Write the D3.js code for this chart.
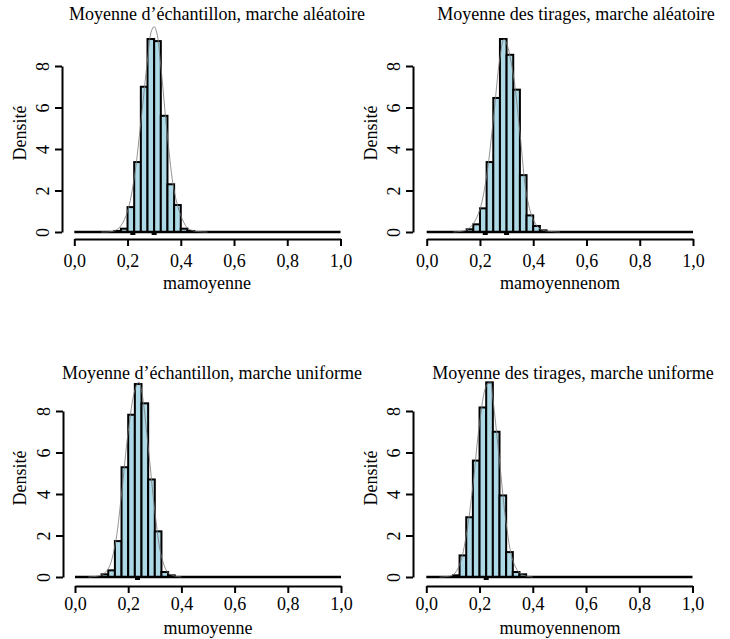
<!DOCTYPE html>
<html><head><meta charset="utf-8">
<script src="https://cdn.jsdelivr.net/npm/d3@7"></script>
<style>
body{margin:0;background:#fff;}
text{font-family:"Liberation Serif","Times New Roman",serif;fill:#000;}
</style></head>
<body><svg id="c" width="730" height="639"></svg>
<script>
// ---- data ----
const binEdges = [0,0.025,0.05,0.075,0.1,0.125,0.15,0.175,0.2,0.225,0.25,0.275,0.3,0.325,0.35,0.375,0.4,0.425,0.45,0.475,0.5,0.525,0.55,0.575,0.6,0.625,0.65,0.675,0.7,0.725,0.75,0.775,0.8,0.825,0.85,0.875,0.9,0.925,0.95,0.975,1];
const xTicks = [0,0.2,0.4,0.6,0.8,1];
const xTickLabels = ["0,0","0,2","0,4","0,6","0,8","1,0"];
const yTicks = [0,2,4,6,8];
const titles = ["Moyenne d\u2019\u00e9chantillon, marche al\u00e9atoire","Moyenne des tirages, marche al\u00e9atoire","Moyenne d\u2019\u00e9chantillon, marche uniforme","Moyenne des tirages, marche uniforme"];
const xLabels = ["mamoyenne","mamoyennenom","mumoyenne","mumoyennenom"];
const yLabel = "Densit\u00e9";
// densities per bin (40 bins of width 0.025)
const densMamoyenne    = [0,0,0,0,0,0,0.05,0.16,1.2,3.37,7.0,9.3,9.2,5.6,2.3,1.3,0.16,0.05,0,0,0,0,0,0,0,0,0,0,0,0,0,0,0,0,0,0,0,0,0,0];
const densMamoyennenom = [0,0,0,0,0,0,0.13,0.37,1.14,3.37,6.46,9.3,8.54,6.86,2.74,0.8,0.29,0.08,0,0,0,0,0,0,0,0,0,0,0,0,0,0,0,0,0,0,0,0,0,0];
const densMumoyenne    = [0,0,0,0,0.13,0.32,1.73,5.29,7.82,9.3,8.37,4.7,2.2,0.24,0.08,0,0,0,0,0,0,0,0,0,0,0,0,0,0,0,0,0,0,0,0,0,0,0,0,0];
const densMumoyennenom = [0,0,0,0,0.08,1.04,2.88,5.61,8.17,9.38,7.0,3.93,1.2,0.24,0.13,0,0,0,0,0,0,0,0,0,0,0,0,0,0,0,0,0,0,0,0,0,0,0,0,0];
// density curves (x, density)
const curveX1 = [0.1,0.15,0.175,0.2,0.225,0.25,0.275,0.29,0.3,0.31,0.325,0.35,0.375,0.4,0.425,0.45,0.5];
const curveY1 = [0,0.05,0.3,1.0,2.6,5.3,8.3,9.7,9.9,9.6,8.0,4.6,2.0,0.8,0.2,0.05,0];
const curveX2 = [0.1,0.15,0.175,0.2,0.225,0.25,0.275,0.29,0.3,0.325,0.35,0.375,0.4,0.425,0.45,0.5];
const curveY2 = [0,0.1,0.4,1.1,2.7,5.4,8.4,9.3,9.1,7.6,4.8,1.8,0.6,0.15,0.05,0];
const curveX3 = [0.05,0.1,0.125,0.15,0.175,0.2,0.225,0.24,0.25,0.275,0.3,0.325,0.35,0.375,0.4];
const curveY3 = [0,0.1,0.4,1.5,4.0,7.0,9.0,9.4,9.0,6.3,3.2,1.0,0.2,0.05,0];
const curveX4 = [0.05,0.1,0.125,0.15,0.175,0.2,0.225,0.24,0.25,0.275,0.3,0.325,0.35,0.375,0.4];
const curveY4 = [0,0.1,0.6,2.0,4.4,7.4,9.2,9.4,8.6,5.6,2.6,0.8,0.2,0.05,0];
// marks on the baseline
const marks1 = [0.22,0.30], marks2 = [0.22,0.30], marks3 = [0.235], marks4 = [0.225];

// ---- layout ----
const panels = [
 {dens:densMamoyenne, cx:curveX1, cy:curveY1, marks:marks1, x0:74.3, x1:340.5, y0:232, y8:66, yAxisX:62, xAxisY:239, tickLabY:263, titleX:217, titleY:20, xlabX:207, xlabY:289, ylabX:26, ylabY:133},
 {dens:densMamoyennenom, cx:curveX2, cy:curveY2, marks:marks2, x0:426.7, x1:693, y0:232, y8:66, yAxisX:413, xAxisY:239, tickLabY:263, titleX:576, titleY:20, xlabX:560, xlabY:289, ylabX:377, ylabY:133},
 {dens:densMumoyenne, cx:curveX3, cy:curveY3, marks:marks3, x0:75, x1:341, y0:577, y8:411, yAxisX:63, xAxisY:586, tickLabY:606, titleX:212, titleY:379, xlabX:208, xlabY:634, ylabX:26, ylabY:478},
 {dens:densMumoyennenom, cx:curveX4, cy:curveY4, marks:marks4, x0:426.3, x1:692.5, y0:577, y8:411, yAxisX:413, xAxisY:586, tickLabY:606, titleX:573, titleY:379, xlabX:560, xlabY:634, ylabX:377, ylabY:478}
];

const FS = 18;
const svg = d3.select("#c");
panels.forEach((p,i)=>{
  const x = d3.scaleLinear().domain([0,1]).range([p.x0,p.x1]);
  const y = d3.scaleLinear().domain([0,8]).range([p.y0,p.y8]);
  const g = svg.append("g");
  g.append("text").attr("x",p.titleX).attr("y",p.titleY).attr("text-anchor","middle")
    .attr("font-size",FS).text(titles[i]);
  g.append("text").attr("x",p.xlabX).attr("y",p.xlabY).attr("text-anchor","middle")
    .attr("font-size",FS).text(xLabels[i]);
  g.append("text").attr("transform",`translate(${p.ylabX},${p.ylabY}) rotate(-90)`).attr("text-anchor","middle")
    .attr("font-size",FS).text(yLabel);
  // bars
  const bins = p.dens.map((d,k)=>({x0:binEdges[k], x1:binEdges[k+1], d})).filter(b=>b.d>0);
  g.selectAll("rect.bar").data(bins).enter().append("rect")
    .attr("x",b=>x(b.x0)).attr("width",b=>x(b.x1)-x(b.x0))
    .attr("y",b=>y(b.d)).attr("height",b=>y(0)-y(b.d))
    .attr("fill","#add8e6").attr("stroke","#000").attr("stroke-width",2);
  // baseline formed by the empty bins
  g.append("line").attr("x1",x(binEdges[0])).attr("x2",x(binEdges[binEdges.length-1]))
    .attr("y1",y(0)).attr("y2",y(0)).attr("stroke","#000").attr("stroke-width",2.5);
  // density curve
  const line = d3.line().x(d=>x(d[0])).y(d=>y(d[1])).curve(d3.curveCatmullRom);
  g.append("path").datum(p.cx.map((v,k)=>[v,p.cy[k]])).attr("d",line)
    .attr("fill","none").attr("stroke","#777").attr("stroke-width",0.8);
  g.selectAll("rect.mark").data(p.marks).enter().append("rect")
    .attr("x",d=>x(d)-2.5).attr("y",y(0)).attr("width",5).attr("height",3).attr("fill","#000");
  // x axis
  const xa = d3.axisBottom(x).tickValues(xTicks).tickFormat((d,k)=>xTickLabels[k]).tickSize(7).tickSizeOuter(0);
  const gx = g.append("g").attr("transform",`translate(0,${p.xAxisY})`).call(xa);
  gx.select(".domain").attr("stroke-width",2);
  gx.selectAll(".tick line").attr("stroke-width",2);
  gx.selectAll(".tick text").attr("font-size",FS).attr("font-family","Liberation Serif")
    .attr("dy",null).attr("y",p.tickLabY-p.xAxisY).attr("dominant-baseline","middle");
  // y axis
  const ya = d3.axisLeft(y).tickValues(yTicks).tickFormat(d3.format("d")).tickSize(7).tickSizeOuter(0);
  const gy = g.append("g").attr("transform",`translate(${p.yAxisX},0)`).call(ya);
  gy.select(".domain").attr("stroke-width",2);
  gy.selectAll(".tick line").attr("stroke-width",2);
  gy.selectAll(".tick text").attr("font-size",FS).attr("font-family","Liberation Serif")
    .attr("x",null).attr("dy",null).attr("text-anchor","middle")
    .attr("transform","translate(-17,0) rotate(-90)").attr("dominant-baseline","middle");
});
</script></body></html>
